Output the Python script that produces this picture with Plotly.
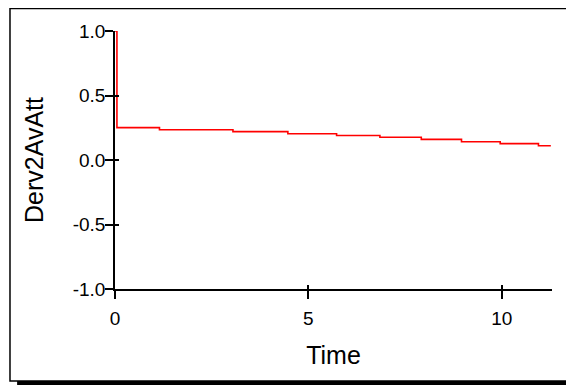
import plotly.graph_objects as go

TIEMPO = [0, 0.05, 1.15, 3.05, 4.47, 5.73, 6.85, 7.92, 8.96, 9.96, 10.95, 11.27]
DERV2 = [1.0, 0.251, 0.235, 0.22, 0.204, 0.19, 0.176, 0.16, 0.142, 0.127, 0.111, 0.111]

X_TICKS = [0, 5, 10]
Y_TICKS = [-1.0, -0.5, 0.0, 0.5, 1.0]
Y_LABELS = ["-1.0", "-0.5", "0.0", "0.5", "1.0"]

X_RANGE = [0, 11.3]
Y_RANGE = [-1, 1]


def main():
    fig = go.Figure()

    fig.add_trace(
        go.Scatter(
            x=TIEMPO,
            y=DERV2,
            mode="lines",
            line_shape="hv",
            line_color="#ff0000",
            line_width=1.6,
            showlegend=False,
            hoverinfo="skip",
        )
    )

    eje = dict(
        showgrid=False,
        zeroline=False,
        showline=True,
        linecolor="black",
        linewidth=1.5,
        tickcolor="black",
        tickwidth=1.5,
    )

    fig.update_xaxes(
        range=X_RANGE,
        tickvals=X_TICKS,
        ticks="outside",
        ticklen=8,
        tickfont_size=19,
        ticklabelstandoff=3,
        title_text="Time",
        title_font_size=25,
        title_standoff=19,
        **eje,
    )
    fig.update_yaxes(
        range=Y_RANGE,
        tickvals=Y_TICKS,
        ticktext=Y_LABELS,
        ticks="outside",
        ticklen=8,
        tickfont_size=19,
        ticklabelstandoff=-4,
        title_text="Derv2AvAtt",
        title_font_size=25,
        title_standoff=22,
        **eje,
    )

    # Ejes superpuestos solo para dibujar la parte interior de las marcas
    fig.update_layout(
        xaxis2=dict(
            overlaying="x",
            range=X_RANGE,
            tickvals=X_TICKS,
            ticks="inside",
            ticklen=4,
            tickwidth=1.5,
            tickcolor="black",
            showticklabels=False,
            showgrid=False,
            zeroline=False,
        ),
        yaxis2=dict(
            overlaying="y",
            range=Y_RANGE,
            tickvals=Y_TICKS,
            ticks="inside",
            ticklen=4,
            tickwidth=1.5,
            tickcolor="black",
            showticklabels=False,
            showgrid=False,
            zeroline=False,
        ),
    )
    fig.add_trace(
        go.Scatter(x=[None], y=[None], xaxis="x2", yaxis="y2", showlegend=False)
    )

    # Marco exterior con sombra
    fig.add_shape(
        type="rect", xref="paper", yref="paper",
        x0=-0.224, x1=1.1, y0=-0.3721, y1=-0.3566,
        fillcolor="black", line_width=0, layer="below",
    )
    fig.add_shape(
        type="rect", xref="paper", yref="paper",
        x0=-0.2403, x1=1.1, y0=-0.3566, y1=1.087,
        line_color="black", line_width=1.5, fillcolor="white", layer="below",
    )

    # La página añade 8 px de margen, por eso la figura mide 566x378
    fig.update_layout(
        width=566,
        height=378,
        margin=dict(l=107, r=22, t=23, b=97),
        font_family="Liberation Sans, Arial, sans-serif",
        font_color="black",
        plot_bgcolor="rgba(0,0,0,0)",
        paper_bgcolor="white",
    )

    fig.write_html("out.html")


if __name__ == "__main__":
    main()
